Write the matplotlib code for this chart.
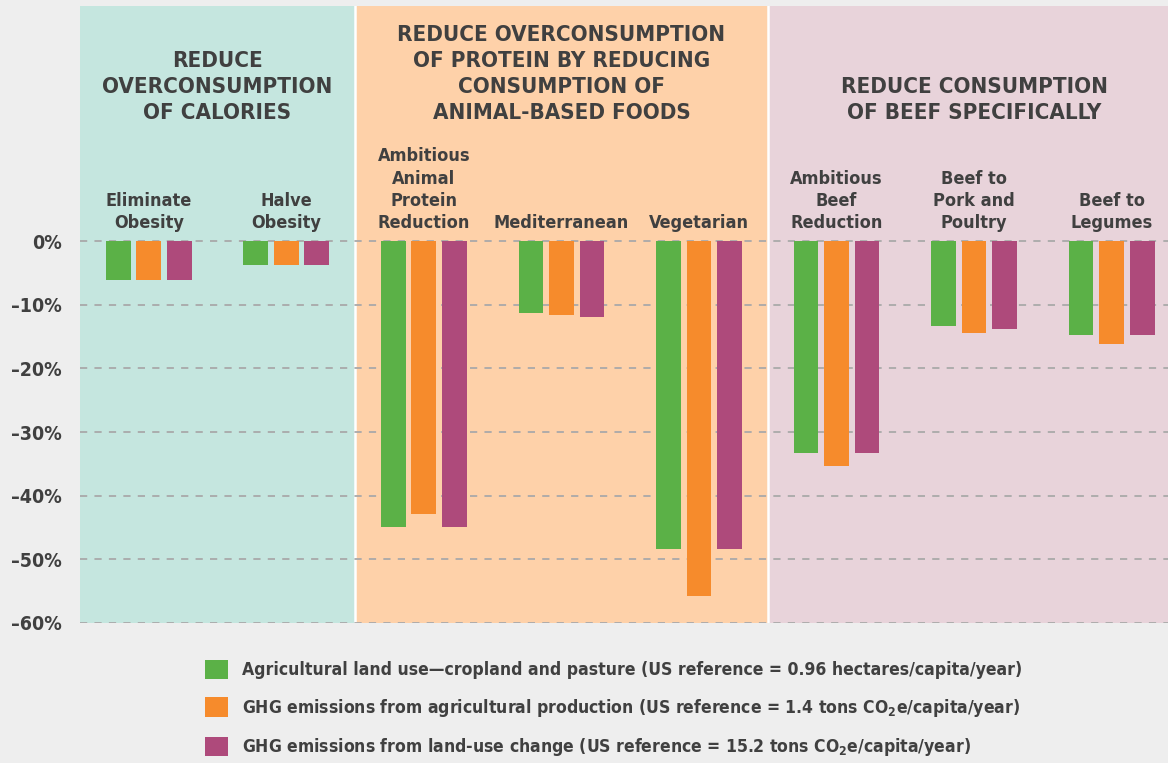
import matplotlib.pyplot as plt

plt.rcParams['font.family'] = ['DejaVu Sans']
plt.rcParams['font.stretch'] = 'condensed'
plt.rcParams['font.weight'] = 'bold'
plt.rcParams['mathtext.fontset'] = 'custom'
plt.rcParams['mathtext.rm'] = 'DejaVu Sans:bold'

groups = ['Eliminate\nObesity', 'Halve\nObesity',
          'Ambitious\nAnimal\nProtein\nReduction', 'Mediterranean', 'Vegetarian',
          'Ambitious\nBeef\nReduction', 'Beef to\nPork and\nPoultry', 'Beef to\nLegumes']
land_use = [-6.2, -3.8, -44.9, -11.3, -48.4, -33.3, -13.4, -14.7]
ghg_production = [-6.2, -3.8, -42.9, -11.6, -55.7, -35.3, -14.5, -16.1]
ghg_land_change = [-6.2, -3.8, -44.9, -11.9, -48.4, -33.3, -13.8, -14.7]

series_labels = [
    'Agricultural land use\u2014cropland and pasture (US reference = 0.96 hectares/capita/year)',
    'GHG emissions from agricultural production (US reference = 1.4 tons CO$_\\mathrm{2}$e/capita/year)',
    'GHG emissions from land-use change (US reference = 15.2 tons CO$_\\mathrm{2}$e/capita/year)',
]
panel_titles = ['REDUCE\nOVERCONSUMPTION\nOF CALORIES',
                'REDUCE OVERCONSUMPTION\nOF PROTEIN BY REDUCING\nCONSUMPTION OF\nANIMAL-BASED FOODS',
                'REDUCE CONSUMPTION\nOF BEEF SPECIFICALLY']
yticks = [0, -10, -20, -30, -40, -50, -60]

text_c = '#404040'
bar_colors = ['#5bb147', '#f68b2c', '#ae4a7b']
panel_colors = ['#c5e6df', '#fed1a9', '#e8d3da']

fig = plt.figure(figsize=(11.68, 7.63), dpi=100, facecolor='#eeeeee')
ax = fig.add_axes([0.0685, 0.1835, 0.9315, 0.8085])
ax.set_facecolor('none')

# background panels
ax.axvspan(-0.5, 1.5, color=panel_colors[0], zorder=0, lw=0)
ax.axvspan(1.5, 4.5, color=panel_colors[1], zorder=0, lw=0)
ax.axvspan(4.5, 7.5, color=panel_colors[2], zorder=0, lw=0)
for xb in [1.5, 4.5]:
    ax.axvline(xb, color='white', lw=1.8, zorder=0.5)

for t in yticks:
    ax.axhline(t, color='#a9a9a9', lw=1.3, ls=(0, (4, 4)), zorder=1)

x = list(range(len(groups)))
off = 0.222
w = 0.18
for k, (vals, lab) in enumerate(zip([land_use, ghg_production, ghg_land_change], series_labels)):
    ax.bar([i + (k - 1) * off for i in x], vals, width=w, color=bar_colors[k], label=lab, zorder=2)

for i, g in enumerate(groups):
    ax.text(i, 2.0, g, ha='center', va='baseline', fontsize=13, color=text_c,
            linespacing=1.31)

title_x = [0.5, 3, 6]
for tx, tt in zip(title_x, panel_titles):
    ax.text(tx, 19.1, tt, ha='center', va='baseline', fontsize=16, color=text_c,
            linespacing=1.38)

ax.set_xlim(-0.5, 7.41)
ax.set_ylim(-60, 36.9)
ax.set_xticks([])
ax.set_yticks(yticks)
ax.set_yticklabels([('\u2013' if t < 0 else '') + f'{abs(t)}%' for t in yticks],
                   fontsize=14, color=text_c)
ax.tick_params(axis='y', length=0, pad=13)
for s in ax.spines.values():
    s.set_visible(False)

fig.legend(loc='upper left', bbox_to_anchor=(205 / 1168, 1 - 660 / 763),
           frameon=False, fontsize=12.6, handlelength=1.3, handleheight=1.3,
           handletextpad=0.8, labelspacing=1.0, borderpad=0, borderaxespad=0,
           labelcolor=text_c)

fig.savefig('out.png', dpi=100, facecolor=fig.get_facecolor())
